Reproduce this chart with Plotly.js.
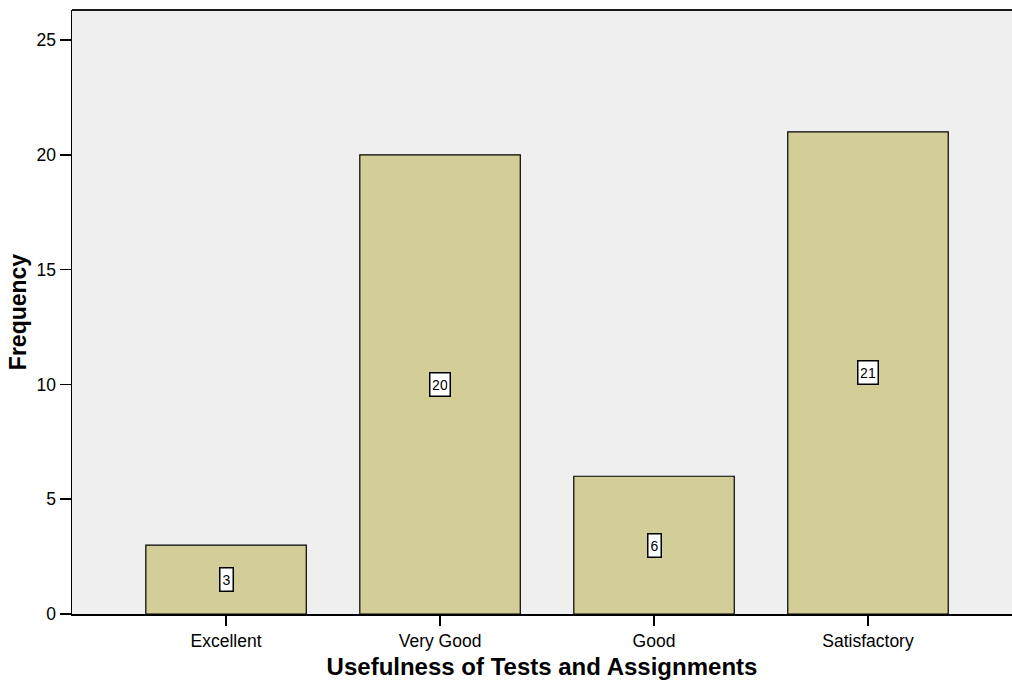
<!DOCTYPE html>
<html>
<head>
<meta charset="utf-8">
<script src="https://cdn.plot.ly/plotly-3.0.1.min.js"></script>
<style>html,body{margin:0;padding:0;background:#fff}#chart{width:1012px;height:689px}</style>
</head>
<body>
<div id="chart"></div>
<script>
const categories = ["Excellent", "Very Good", "Good", "Satisfactory"];
const frequencies = [3, 20, 6, 21];
const yTicks = [0, 5, 10, 15, 20, 25];

const trace = {
  type: "bar",
  x: categories,
  y: frequencies,
  width: 0.75,
  marker: {color: "#d3ce97", line: {color: "#000000", width: 1.2}},
  hoverinfo: "x+y"
};

const annotations = categories.map((c, i) => {
  const txt = String(frequencies[i]);
  return {
    x: c, y: frequencies[i] / 2, xref: "x", yref: "y",
    text: txt, showarrow: false,
    font: {family: "Arial, Liberation Sans, sans-serif", size: 14, color: "#000"},
    width: txt.length > 1 ? 15 : 8, height: 18,
    bgcolor: "#ffffff", bordercolor: "#000000", borderwidth: 1.5, borderpad: 2
  };
});

const layout = {
  width: 1012, height: 689,
  margin: {l: 72, r: 0, t: 10, b: 75},
  paper_bgcolor: "#ffffff",
  plot_bgcolor: "#efefef",
  showlegend: false,
  font: {family: "Arial, Liberation Sans, sans-serif", color: "#000"},
  xaxis: {
    range: [-0.72, 3.673],
    showline: true, linecolor: "#000", linewidth: 1.5,
    ticks: "outside", ticklen: 10, tickcolor: "#000", tickwidth: 1.5,
    tickfont: {size: 17.5},
    showgrid: false, zeroline: false,
    title: {text: "Usefulness of Tests and Assignments", font: {size: 24, weight: "bold"}, standoff: 8}
  },
  yaxis: {
    range: [0, 26.31],
    tickvals: yTicks,
    showline: true, linecolor: "#000", linewidth: 1.5,
    ticks: "outside", ticklen: 11, tickcolor: "#000", tickwidth: 1.5,
    tickfont: {size: 17.5},
    showgrid: false, zeroline: false,
    title: {text: "Frequency", font: {size: 23, weight: "bold"}, standoff: 3}
  },
  shapes: [{type: "line", xref: "paper", yref: "paper", x0: 0, x1: 1, y0: 1, y1: 1,
            line: {color: "#1a1a1a", width: 2}}],
  annotations: annotations
};

Plotly.newPlot("chart", [trace], layout, {displayModeBar: false, staticPlot: true});
</script>
</body>
</html>
